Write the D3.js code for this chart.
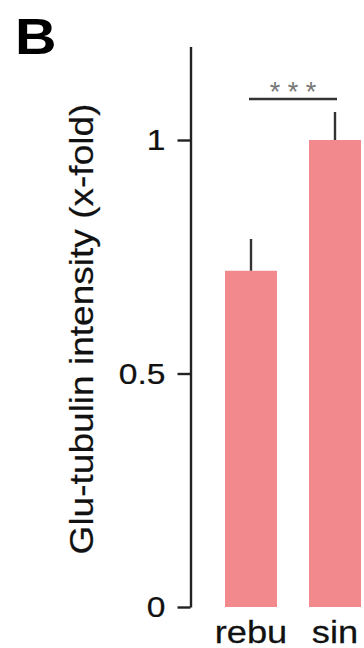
<!DOCTYPE html>
<html>
<head>
<meta charset="utf-8">
<script src="https://cdn.jsdelivr.net/npm/d3@7"></script>
<style>
  html, body { margin: 0; padding: 0; background: #fff; }
  svg { display: block; }
  text { font-family: "Liberation Sans", Arial, Helvetica, sans-serif; }
</style>
</head>
<body>
<svg id="chart" width="364" height="648"></svg>
<script>
// ---- data ----
const categories = ["rebu", "sin"];
const values = [0.72, 1.0];
const errors = [0.068, 0.06];
const yTickValues = [0, 0.5, 1];
const yTickLabels = ["0", "0.5", "1"];
const yDomain = [0, 1.2];
const yTitle = "Glu-tubulin intensity (x-fold)";
const panelLabel = "B";
const sigLabel = "* * *";

// ---- layout ----
const svg = d3.select("#chart");
const axisX = 190.5;
const barColor = "#f28a8d";
const inkColor = "#222";

const y = d3.scaleLinear().domain(yDomain).range([607, 46.6]);
const x = d3.scaleBand().domain(categories).range([193, 393]).paddingInner(0.381).paddingOuter(0.381);

// bars
svg.append("g").selectAll("rect")
  .data(categories)
  .join("rect")
  .attr("x", d => x(d))
  .attr("width", x.bandwidth())
  .attr("y", (d, i) => y(values[i]))
  .attr("height", (d, i) => y(0) - y(values[i]))
  .attr("fill", barColor);

// error bars (upper only)
svg.append("g").selectAll("line")
  .data(categories)
  .join("line")
  .attr("x1", d => x(d) + x.bandwidth() / 2)
  .attr("x2", d => x(d) + x.bandwidth() / 2)
  .attr("y1", (d, i) => y(values[i]))
  .attr("y2", (d, i) => y(values[i] + errors[i]))
  .attr("stroke", "#333")
  .attr("stroke-width", 2.4);

// y axis
const yAxis = d3.axisLeft(y)
  .tickValues(yTickValues)
  .tickFormat((d, i) => yTickLabels[i])
  .tickSize(13)
  .tickSizeOuter(0);

const gy = svg.append("g")
  .attr("transform", `translate(${axisX},0)`)
  .call(yAxis);
gy.attr("font-family", null).attr("font-size", null);
gy.select(".domain").attr("stroke", inkColor).attr("stroke-width", 2.4);
gy.selectAll(".tick line").attr("stroke", inkColor).attr("stroke-width", 2.4);
gy.selectAll(".tick text")
  .attr("x", -25 / 1.12)
  .attr("dy", "0.33em")
  .attr("transform", "scale(1.12,1)")
  .attr("fill", "#111")
  .attr("stroke", "#111")
  .attr("stroke-width", 0.25)
  .style("font-size", "30px");

// x labels
svg.append("g").selectAll("text")
  .data(categories)
  .join("text")
  .attr("transform", d => `translate(${x(d) + x.bandwidth() / 2},643) scale(1.17,1)`)
  .attr("text-anchor", "middle")
  .attr("fill", "#111")
  .attr("stroke", "#111")
  .attr("stroke-width", 0.25)
  .style("font-size", "31px")
  .text(d => d);

// y title
svg.append("text")
  .attr("transform", "translate(93,329) rotate(-90) scale(1.09,1)")
  .attr("text-anchor", "middle")
  .attr("fill", "#111")
  .attr("stroke", "#111")
  .attr("stroke-width", 0.2)
  .style("font-size", "34px")
  .text(yTitle);

// panel label
svg.append("text")
  .attr("transform", "translate(15,54) scale(1.15,1)")
  .attr("fill", "#000")
  .style("font-size", "50px")
  .style("font-weight", "bold")
  .text(panelLabel);

// significance bracket
const topVal = d3.max(values.map((v, i) => v + errors[i]));
const sigY = y(topVal) - 13;
const c0 = x(categories[0]) + x.bandwidth() / 2 - 2;
const c1 = x(categories[1]) + x.bandwidth() / 2 + 2;
svg.append("line")
  .attr("x1", c0).attr("x2", c1)
  .attr("y1", sigY).attr("y2", sigY)
  .attr("stroke", "#333")
  .attr("stroke-width", 2.4);
svg.append("text")
  .attr("x", (c0 + c1) / 2)
  .attr("y", sigY + 2)
  .attr("text-anchor", "middle")
  .attr("fill", "#777")
  .style("font-size", "27px")
  .text(sigLabel);
</script>
</body>
</html>
